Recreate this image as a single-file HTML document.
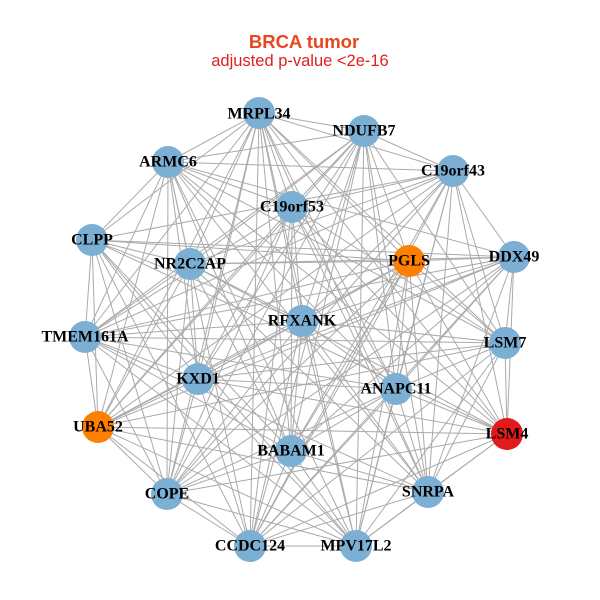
<!DOCTYPE html>
<html><head><meta charset="utf-8"><style>
html,body{margin:0;padding:0;background:#fff;}
svg{display:block;}
.l{font-family:"Liberation Serif",serif;font-weight:bold;font-size:16px;fill:#000;text-anchor:middle;dominant-baseline:central;}
</style></head><body>
<svg id="s" width="600" height="600" viewBox="0 0 600 600">
<rect width="600" height="600" fill="#fff"/>
<text x="304" y="48" text-anchor="middle" font-family="Liberation Sans, sans-serif" font-weight="bold" font-size="18.5" fill="#e8461c">BRCA tumor</text>
<text x="300" y="66" text-anchor="middle" font-family="Liberation Sans, sans-serif" font-size="16.5" fill="#e0201c">adjusted p-value &lt;2e-16</text>
<g id="edges" stroke="#aaaaaa" stroke-width="1"></g>
<g id="nodes"></g>
<g>
<text class="l" x="259" y="114">MRPL34</text>
<text class="l" x="364" y="131">NDUFB7</text>
<text class="l" x="168" y="162">ARMC6</text>
<text class="l" x="453" y="171">C19orf43</text>
<text class="l" x="292" y="207">C19orf53</text>
<text class="l" x="92" y="240">CLPP</text>
<text class="l" x="190" y="264">NR2C2AP</text>
<text class="l" x="409" y="261">PGLS</text>
<text class="l" x="514" y="257">DDX49</text>
<text class="l" x="302" y="321">RFXANK</text>
<text class="l" x="85" y="337">TMEM161A</text>
<text class="l" x="505" y="343">LSM7</text>
<text class="l" x="198" y="379">KXD1</text>
<text class="l" x="396" y="389">ANAPC11</text>
<text class="l" x="98" y="427">UBA52</text>
<text class="l" x="507" y="434">LSM4</text>
<text class="l" x="291" y="451">BABAM1</text>
<text class="l" x="167" y="494">COPE</text>
<text class="l" x="428" y="492">SNRPA</text>
<text class="l" x="250" y="546">CCDC124</text>
<text class="l" x="356" y="546">MPV17L2</text>
</g>
</svg>
<script>
var N=[[259,113,0],[364,131,0],[168,162,0],[453,171,0],[292,207,0],[92,240,0],[190,264,0],[409,261,1],[514,257,0],[302,321,0],[85,337,0],[505,343,0],[198,379,0],[396,389,0],[98,427,1],[507,434,2],[291,451,0],[167,494,0],[428,492,0],[250,546,0],[356,546,0]];
var cols=["#7bafd4","#ff7f00","#e31a1c"];
var e=document.getElementById("edges"),n=document.getElementById("nodes"),ns="http://www.w3.org/2000/svg";
var seed=7;function r(){seed=(seed*9301+49297)%233280;return seed/233280;}
for(var i=0;i<N.length;i++)for(var j=i+1;j<N.length;j++){
 var dx=N[i][0]-N[j][0],dy=N[i][1]-N[j][1];var d=Math.sqrt(dx*dx+dy*dy);
 if(r()<(d<120?0.95:0.8)){var l=document.createElementNS(ns,"line");
 l.setAttribute("x1",N[i][0]);l.setAttribute("y1",N[i][1]);l.setAttribute("x2",N[j][0]);l.setAttribute("y2",N[j][1]);e.appendChild(l);}
}
for(var i=0;i<N.length;i++){var c=document.createElementNS(ns,"circle");
c.setAttribute("cx",N[i][0]);c.setAttribute("cy",N[i][1]);c.setAttribute("r",16);c.setAttribute("fill",cols[N[i][2]]);n.appendChild(c);}
</script>
</body></html>
